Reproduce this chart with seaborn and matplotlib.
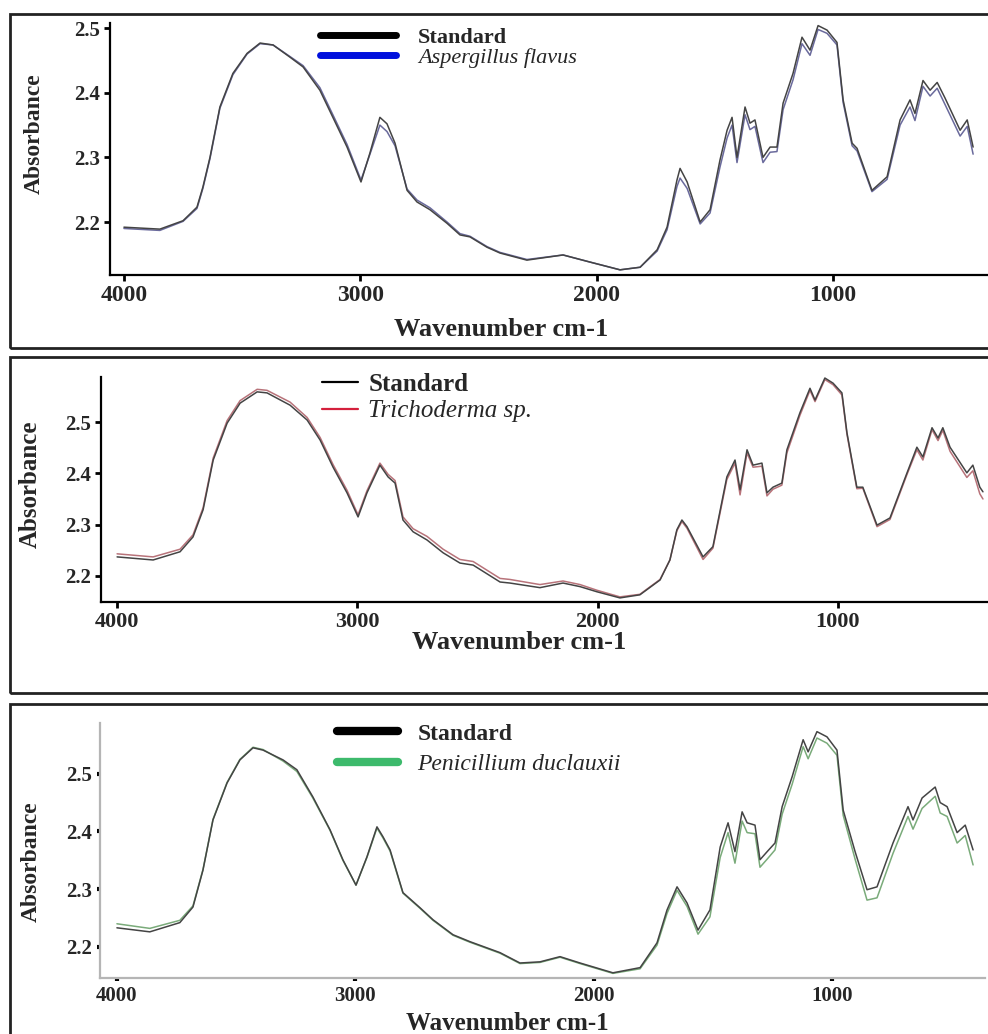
import pandas as pd
import seaborn as sns
import matplotlib.pyplot as plt
from matplotlib.lines import Line2D
from matplotlib.patches import Rectangle

# ---- data (wavenumber cm-1, absorbance) ----
wn_asp = [4000, 3848, 3750, 3691, 3666, 3636, 3594, 3539, 3479, 3424,
          3369, 3297, 3242, 3171, 3116, 3056, 2997, 2959, 2917, 2887,
          2853, 2802, 2760, 2705, 2633, 2578, 2536, 2464, 2409, 2295,
          2142, 2028, 1901, 1816, 1744, 1702, 1660, 1647, 1617, 1562,
          1520, 1478, 1448, 1427, 1406, 1372, 1351, 1330, 1296, 1266,
          1237, 1211, 1169, 1131, 1097, 1063, 1025, 983, 957, 919,
          898, 835, 771, 716, 674, 653, 619, 589, 559, 526,
          462, 432, 407]
std_asp = [2.192, 2.189, 2.202, 2.223, 2.254, 2.300, 2.378, 2.430, 2.461, 2.477,
           2.474, 2.455, 2.440, 2.404, 2.362, 2.316, 2.262, 2.307, 2.362, 2.352,
           2.322, 2.249, 2.231, 2.219, 2.198, 2.180, 2.177, 2.161, 2.152, 2.141,
           2.149, 2.138, 2.126, 2.130, 2.157, 2.192, 2.265, 2.283, 2.262, 2.200,
           2.219, 2.296, 2.342, 2.362, 2.300, 2.378, 2.353, 2.358, 2.300, 2.316,
           2.316, 2.384, 2.430, 2.486, 2.466, 2.504, 2.497, 2.478, 2.389, 2.322,
           2.314, 2.249, 2.270, 2.358, 2.389, 2.368, 2.419, 2.404, 2.416, 2.392,
           2.342, 2.358, 2.316]
flavus = [2.190, 2.187, 2.201, 2.221, 2.252, 2.298, 2.376, 2.428, 2.460, 2.476,
          2.474, 2.456, 2.442, 2.408, 2.366, 2.320, 2.265, 2.305, 2.350, 2.340,
          2.318, 2.251, 2.234, 2.222, 2.200, 2.182, 2.178, 2.162, 2.153, 2.142,
          2.149, 2.138, 2.126, 2.130, 2.155, 2.188, 2.255, 2.268, 2.252, 2.197,
          2.214, 2.285, 2.330, 2.350, 2.292, 2.366, 2.343, 2.348, 2.292, 2.308,
          2.309, 2.374, 2.420, 2.476, 2.458, 2.498, 2.492, 2.474, 2.385, 2.318,
          2.310, 2.247, 2.266, 2.350, 2.378, 2.357, 2.410, 2.395, 2.407, 2.382,
          2.333, 2.348, 2.305]

wn_tri = [4000, 3850, 3738, 3684, 3642, 3600, 3542, 3488, 3417, 3376,
          3280, 3209, 3155, 3101, 3043, 2997, 2960, 2906, 2872, 2843,
          2810, 2768, 2710, 2643, 2573, 2518, 2406, 2365, 2240, 2144,
          2073, 2003, 1907, 1824, 1740, 1699, 1670, 1649, 1628, 1561,
          1520, 1462, 1428, 1407, 1378, 1353, 1316, 1295, 1270, 1233,
          1212, 1158, 1116, 1095, 1054, 1020, 983, 962, 921, 896,
          837, 783, 712, 671, 646, 608, 583, 563, 533, 463,
          438, 409, 396]
std_tri = [2.237, 2.231, 2.247, 2.276, 2.329, 2.426, 2.498, 2.537, 2.559, 2.557,
           2.533, 2.504, 2.465, 2.412, 2.362, 2.315, 2.362, 2.416, 2.393, 2.381,
           2.309, 2.286, 2.270, 2.245, 2.225, 2.221, 2.188, 2.186, 2.177, 2.186,
           2.179, 2.169, 2.157, 2.163, 2.192, 2.231, 2.290, 2.309, 2.296, 2.237,
           2.257, 2.393, 2.426, 2.368, 2.446, 2.416, 2.420, 2.362, 2.373, 2.381,
           2.446, 2.518, 2.566, 2.543, 2.586, 2.576, 2.557, 2.479, 2.373, 2.373,
           2.299, 2.313, 2.401, 2.451, 2.432, 2.489, 2.469, 2.489, 2.451, 2.401,
           2.416, 2.373, 2.364]
tricho = [2.243, 2.237, 2.252, 2.280, 2.333, 2.430, 2.503, 2.542, 2.564, 2.562,
          2.539, 2.509, 2.470, 2.417, 2.367, 2.319, 2.366, 2.420, 2.398, 2.386,
          2.315, 2.292, 2.277, 2.252, 2.232, 2.228, 2.195, 2.193, 2.183, 2.190,
          2.183, 2.172, 2.159, 2.164, 2.193, 2.231, 2.288, 2.306, 2.293, 2.232,
          2.254, 2.388, 2.420, 2.358, 2.440, 2.412, 2.414, 2.356, 2.369, 2.377,
          2.440, 2.513, 2.562, 2.540, 2.583, 2.573, 2.553, 2.476, 2.370, 2.371,
          2.296, 2.310, 2.398, 2.446, 2.426, 2.485, 2.464, 2.484, 2.443, 2.392,
          2.405, 2.360, 2.350]

wn_pen = [4000, 3862, 3736, 3681, 3639, 3597, 3538, 3484, 3429, 3387,
          3303, 3245, 3178, 3106, 3052, 2997, 2951, 2909, 2884, 2854,
          2800, 2729, 2674, 2590, 2519, 2393, 2309, 2225, 2141, 2057,
          1919, 1805, 1734, 1692, 1650, 1608, 1562, 1512, 1469, 1436,
          1407, 1377, 1356, 1323, 1302, 1272, 1239, 1209, 1167, 1121,
          1100, 1063, 1021, 979, 953, 903, 853, 811, 744, 681,
          660, 622, 567, 546, 517, 475, 441, 408]
std_pen = [2.233, 2.226, 2.242, 2.269, 2.333, 2.420, 2.484, 2.524, 2.545, 2.541,
           2.524, 2.507, 2.460, 2.403, 2.351, 2.307, 2.356, 2.408, 2.391, 2.368,
           2.294, 2.268, 2.247, 2.221, 2.209, 2.190, 2.172, 2.174, 2.183, 2.172,
           2.155, 2.164, 2.207, 2.264, 2.304, 2.276, 2.229, 2.264, 2.373, 2.415,
           2.365, 2.434, 2.415, 2.411, 2.351, 2.365, 2.380, 2.443, 2.495, 2.559,
           2.538, 2.573, 2.564, 2.541, 2.437, 2.365, 2.299, 2.304, 2.380, 2.443,
           2.420, 2.458, 2.477, 2.450, 2.443, 2.398, 2.411, 2.368]
penic = [2.240, 2.232, 2.246, 2.271, 2.334, 2.421, 2.485, 2.525, 2.546, 2.542,
         2.522, 2.504, 2.458, 2.402, 2.350, 2.307, 2.355, 2.406, 2.389, 2.366,
         2.293, 2.267, 2.246, 2.220, 2.208, 2.189, 2.171, 2.173, 2.182, 2.171,
         2.154, 2.162, 2.203, 2.258, 2.298, 2.270, 2.222, 2.252, 2.355, 2.398,
         2.345, 2.418, 2.398, 2.396, 2.338, 2.352, 2.368, 2.430, 2.482, 2.547,
         2.526, 2.562, 2.553, 2.532, 2.428, 2.352, 2.281, 2.285, 2.362, 2.426,
         2.404, 2.440, 2.461, 2.432, 2.426, 2.380, 2.393, 2.342]

x_ticks = [4000, 3000, 2000, 1000]
y_ticks = [2.2, 2.3, 2.4, 2.5]

sns.set_theme(style="ticks")
plt.rcParams['font.family'] = ['Liberation Serif', 'DejaVu Serif']

W, H = 988, 1034
fig = plt.figure(figsize=(W / 100, H / 100), dpi=100)

panels = [
    dict(name='Aspergillus flavus', wn=wn_asp, std=std_asp, smp=flavus,
         line='#6a6a9c', key='#0010dd', key_lw=5, axpx=(110, 23, 988, 275),
         xlim=(4059, 344), ylim=(2.118, 2.508), box=(14, 348),
         leg=(320, 27, 16, 3.4, 1.0, 0.0), spine='black', tick=(4, 2),
         xl=(0.445, -0.17, 19), yl=(-0.074, 0.56, 17), tfs=(17, 15)),
    dict(name='Trichoderma sp.', wn=wn_tri, std=std_tri, smp=tricho,
         line='#b8737a', key='#d4203c', key_lw=1.6, axpx=(101, 377, 988, 602),
         xlim=(4067, 375), ylim=(2.149, 2.588), box=(357, 693),
         leg=(322, 373, 18, 1.45, 0.4, 0.15), spine='black', tick=(4, 2),
         xl=(0.471, -0.13, 19), yl=(-0.067, 0.524, 18), tfs=(16, 15)),
    dict(name='Penicillium duclauxii', wn=wn_pen, std=std_pen, smp=penic,
         line='#7aab7a', key='#3dba6c', key_lw=6, axpx=(100, 723, 985, 978),
         xlim=(4071, 358), ylim=(2.146, 2.588), box=(704, 1100),
         leg=(337, 723, 17, 2.6, 0.8, 0.4), spine='#b5b5b5', tick=(2.5, 3),
         xl=(0.46, -0.135, 18), yl=(-0.066, 0.455, 17), tfs=(15, 15)),
]

for p in panels:
    l, t, r, b = p['axpx']
    ax = fig.add_axes([l / W, 1 - b / H, (r - l) / W, (b - t) / H])
    n = len(p['wn'])
    df = pd.DataFrame({
        'wavenumber': p['wn'] + p['wn'],
        'absorbance': p['smp'] + p['std'],
        'series': [p['name']] * n + ['Standard'] * n,
    })
    sns.lineplot(data=df, x='wavenumber', y='absorbance', hue='series',
                 hue_order=[p['name'], 'Standard'],
                 palette={p['name']: p['line'], 'Standard': '#444444'},
                 estimator=None, legend=False, lw=1.1, ax=ax)
    ax.set_xlim(*p['xlim'])
    ax.set_ylim(*p['ylim'])
    sns.despine(ax=ax)
    for s in ('left', 'bottom'):
        ax.spines[s].set_color(p['spine'])
        ax.spines[s].set_linewidth(1.6)
    ax.set_xticks(x_ticks)
    ax.set_xticklabels([str(v) for v in x_ticks], fontsize=p['tfs'][0], fontweight='bold')
    ax.set_yticks(y_ticks)
    ax.set_yticklabels([f'{v:.1f}' for v in y_ticks], fontsize=p['tfs'][1], fontweight='bold')
    ax.tick_params(axis='both', direction='out', length=p['tick'][0],
                   width=p['tick'][1], color='black', pad=3)
    ax.set_xlabel('Wavenumber cm-1', fontsize=p['xl'][2], fontweight='bold')
    ax.xaxis.set_label_coords(p['xl'][0], p['xl'][1])
    ax.set_ylabel('Absorbance', fontsize=p['yl'][2], fontweight='bold')
    ax.yaxis.set_label_coords(p['yl'][0], p['yl'][1])

    lx, ly, lfs, hl, hp, ls = p['leg']
    handles = [Line2D([], [], color='black', lw=p['key_lw'] if p['key_lw'] > 2 else 1.6),
               Line2D([], [], color=p['key'], lw=p['key_lw'])]
    leg = ax.legend(handles, ['Standard', p['name']], loc='upper left',
                    bbox_to_anchor=(lx / W, 1 - ly / H), bbox_transform=fig.transFigure,
                    frameon=False, fontsize=lfs, handlelength=hl, handletextpad=hp,
                    labelspacing=ls, borderpad=0, borderaxespad=0)
    leg.get_texts()[0].set_fontweight('bold')
    leg.get_texts()[1].set_fontstyle('italic')

    bt, bb = p['box']
    fig.add_artist(Rectangle((10 / W, 1 - bb / H), 1.5, (bb - bt) / H,
                             transform=fig.transFigure, fill=False, lw=2, ec='#222222'))

fig.savefig('out.png', dpi=100)
